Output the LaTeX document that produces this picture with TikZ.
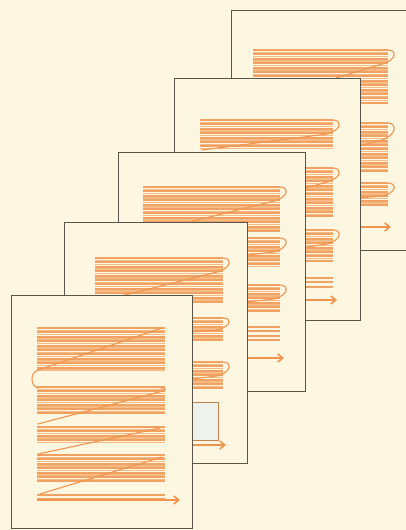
\documentclass[tikz,border=0pt]{standalone}
\usepackage{xcolor}
\usepackage{tikz}
\usetikzlibrary{arrows.meta}

\definecolor{paper}{RGB}{253,246,224}
\definecolor{edge}{RGB}{88,84,74}
\definecolor{scanorange}{RGB}{240,148,78}
\definecolor{scanlight}{RGB}{246,186,132}
\definecolor{boxfill}{RGB}{238,241,236}

\begin{document}
\begin{tikzpicture}[x=1pt, y=-1pt,
  page/.style={fill=paper, draw=edge, line width=0.9pt},
  scan/.style={draw=scanorange, line width=2.1pt, opacity=0.85},
  scanpale/.style={draw=scanlight, line width=1.4pt},
  retrace/.style={draw=scanorange, line width=1.1pt, line cap=round},
  sweep/.style={draw=scanorange, line width=1.6pt, -{Straight Barb[length=5pt, width=8pt]}}]

\useasboundingbox (0,0) rectangle (406,530);
\clip (0,0) rectangle (406,530);
\fill[paper] (0,0) rectangle (406,530);

% Page 5 (back)
\begin{scope}[shift={(231,10)}]
\filldraw[page] (0,0) rectangle (185,240);
\foreach \y in {42.2,46.6,...,93} \draw[scanpale] (22,\y) -- (157,\y);
\foreach \y in {40,44.4,...,93} \draw[scan] (22,\y) -- (157,\y);
\foreach \y in {115.2,119.6,...,163} \draw[scanpale] (22,\y) -- (157,\y);
\foreach \y in {113,117.4,...,163} \draw[scan] (22,\y) -- (157,\y);
\foreach \y in {175.2,179.6,...,197} \draw[scanpale] (22,\y) -- (157,\y);
\foreach \y in {173,177.4,...,197} \draw[scan] (22,\y) -- (157,\y);
\draw[retrace] (157,40) .. controls (166,40) and (166,50) .. (151,54) -- (24,93);
\draw[retrace] (157,113) .. controls (166,113) and (166,125) .. (151,130) -- (24,163);
\draw[retrace] (157,173) .. controls (166,173) and (166,183) .. (151,186) -- (24,197);
\draw[sweep] (22,217) -- (160,217);
\end{scope}

% Page 4
\begin{scope}[shift={(174,78)}]
\filldraw[page] (0,0) rectangle (186,242);
\foreach \y in {44.2,48.6,...,72} \draw[scanpale] (26,\y) -- (159,\y);
\foreach \y in {42,46.4,...,72} \draw[scan] (26,\y) -- (159,\y);
\foreach \y in {92.2,96.6,...,139} \draw[scanpale] (26,\y) -- (159,\y);
\foreach \y in {90,94.4,...,139} \draw[scan] (26,\y) -- (159,\y);
\foreach \y in {154.2,158.6,...,185} \draw[scanpale] (26,\y) -- (159,\y);
\foreach \y in {152,156.4,...,185} \draw[scan] (26,\y) -- (159,\y);
\foreach \y in {200,204.4,...,212} \draw[scan] (26,\y) -- (159,\y);
\draw[retrace] (159,42) .. controls (168,42) and (168,52) .. (153,56) -- (28,72);
\draw[retrace] (159,90) .. controls (168,90) and (168,100) .. (153,104) -- (28,139);
\draw[retrace] (159,152) .. controls (168,152) and (168,162) .. (153,166) -- (28,185);
\draw[sweep] (26,222) -- (163,222);
\end{scope}

% Page 3
\begin{scope}[shift={(118,152)}]
\filldraw[page] (0,0) rectangle (187,239);
\foreach \y in {37.2,41.6,...,81} \draw[scanpale] (25,\y) -- (162,\y);
\foreach \y in {35,39.4,...,81} \draw[scan] (25,\y) -- (162,\y);
\foreach \y in {88.2,92.6,...,115} \draw[scanpale] (25,\y) -- (162,\y);
\foreach \y in {86,90.4,...,115} \draw[scan] (25,\y) -- (162,\y);
\foreach \y in {135.2,139.6,...,161} \draw[scanpale] (25,\y) -- (162,\y);
\foreach \y in {133,137.4,...,161} \draw[scan] (25,\y) -- (162,\y);
\foreach \y in {175,179.4,...,191} \draw[scan] (25,\y) -- (162,\y);
\draw[retrace] (162,35) .. controls (171,35) and (171,45) .. (156,49) -- (27,81);
\draw[retrace] (162,86) .. controls (171,86) and (171,96) .. (156,100) -- (27,115);
\draw[retrace] (162,133) .. controls (171,133) and (171,143) .. (156,147) -- (27,161);
\draw[sweep] (25,206) -- (166,206);
\end{scope}

% Page 2
\begin{scope}[shift={(64,222)}]
\filldraw[page] (0,0) rectangle (183,241);
\foreach \y in {38.2,42.6,...,80} \draw[scanpale] (31,\y) -- (159,\y);
\foreach \y in {36,40.4,...,80} \draw[scan] (31,\y) -- (159,\y);
\foreach \y in {98.2,102.6,...,118} \draw[scanpale] (31,\y) -- (159,\y);
\foreach \y in {96,100.4,...,118} \draw[scan] (31,\y) -- (159,\y);
\foreach \y in {142.2,146.6,...,168} \draw[scanpale] (31,\y) -- (159,\y);
\foreach \y in {140,144.4,...,168} \draw[scan] (31,\y) -- (159,\y);
\draw[retrace] (159,36) .. controls (168,36) and (168,46) .. (153,50) -- (33,80);
\draw[retrace] (159,96) .. controls (168,96) and (168,104) .. (153,108) -- (33,118);
\draw[retrace] (159,140) .. controls (168,140) and (168,150) .. (153,154) -- (33,168);
\filldraw[fill=boxfill, draw=scanorange!70!edge, line width=0.6pt] (31,180) rectangle (154,218);
\draw[sweep] (31,223) -- (162,223);
\end{scope}

% Page 1 (front)
\begin{scope}[shift={(11,295)}]
\filldraw[page] (0,0) rectangle (181,233);
\foreach \y in {35.2,39.6,...,75} \draw[scanpale] (26,\y) -- (154,\y);
\foreach \y in {33,37.4,...,75} \draw[scan] (26,\y) -- (154,\y);
\foreach \y in {94.2,98.6,...,120} \draw[scanpale] (26,\y) -- (154,\y);
\foreach \y in {92,96.4,...,120} \draw[scan] (26,\y) -- (154,\y);
\foreach \y in {134.2,138.6,...,148} \draw[scanpale] (26,\y) -- (154,\y);
\foreach \y in {132,136.4,...,148} \draw[scan] (26,\y) -- (154,\y);
\foreach \y in {162.2,166.6,...,187} \draw[scanpale] (26,\y) -- (154,\y);
\foreach \y in {160,164.4,...,187} \draw[scan] (26,\y) -- (154,\y);
\foreach \y in {200,204.4,...,208} \draw[scan] (26,\y) -- (154,\y);
\draw[retrace] (151,33) -- (27,75);
\draw[retrace] (27,75) .. controls (19,77) and (19,91) .. (27,93);
\draw[retrace] (150,93) .. controls (156,92) and (156,96) .. (148,97) -- (27,129);
\draw[retrace] (149,133) -- (27,159);
\draw[retrace] (151,162) -- (29,199);
\draw[sweep] (26,205) -- (169,205);
\end{scope}

\end{tikzpicture}
\end{document}
